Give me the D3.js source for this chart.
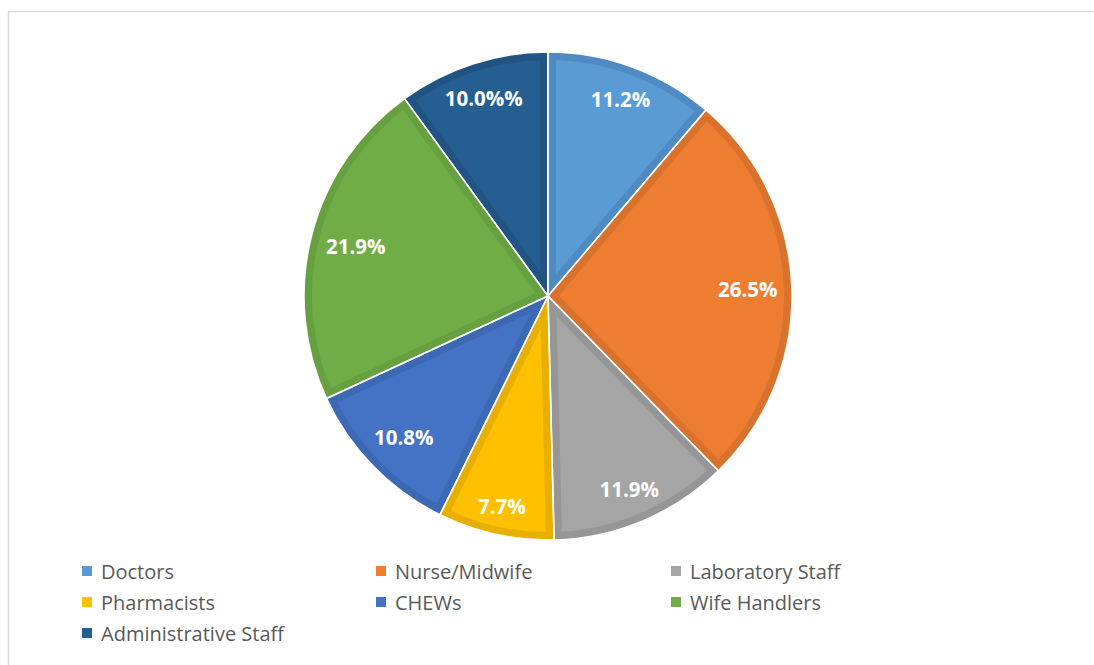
<!DOCTYPE html>
<html>
<head>
<meta charset="utf-8">
<script src="https://cdn.jsdelivr.net/npm/d3@7"></script>
<style>
  html, body { margin: 0; padding: 0; background: #fff; }
  svg { display: block; }
</style>
</head>
<body>
<svg id="chart" width="1094" height="665"></svg>
<script>
// Staff categories and their share of the workforce (%)
const categories = ["Doctors", "Nurse/Midwife", "Laboratory Staff", "Pharmacists", "CHEWs", "Wife Handlers", "Administrative Staff"];
const shares = [11.2, 26.5, 11.9, 7.7, 10.8, 21.9, 10.0];
const labels = ["11.2%", "26.5%", "11.9%", "7.7%", "10.8%", "21.9%", "10.0%%"];
const fills = ["#5B9BD5", "#ED7D31", "#A5A5A5", "#FFC000", "#4472C4", "#70AD47", "#255E91"];
const edges = ["#4F8AC2", "#D8722C", "#969696", "#E8AF00", "#3D68B3", "#66A040", "#215483"];

const svg = d3.select("#chart");
const W = 1094, H = 665;

// outer frame
svg.append("rect")
  .attr("x", 8.5).attr("y", 11.5)
  .attr("width", W).attr("height", H)
  .attr("fill", "none").attr("stroke", "#d9d9d9").attr("stroke-width", 1.5);

const cx = 548, cy = 296, R = 244;
const data = categories.map((c, i) => ({ name: c, value: shares[i], label: labels[i], fill: fills[i], edge: edges[i] }));

const pie = d3.pie().value(d => d.value).sort(null);
const arc = d3.arc().innerRadius(0).outerRadius(R);
const arcs = pie(data);

const g = svg.append("g").attr("transform", `translate(${cx},${cy})`);
const defs = svg.append("defs");

arcs.forEach((a, i) => {
  defs.append("clipPath").attr("id", "clip" + i)
    .append("path").attr("d", arc(a));
});

// slices with an inner darker rim
g.selectAll("path.slice")
  .data(arcs)
  .join("path")
  .attr("class", "slice")
  .attr("d", arc)
  .attr("fill", d => d.data.fill)
  .attr("stroke", d => d.data.edge)
  .attr("stroke-width", 16)
  .attr("stroke-linejoin", "miter")
  .attr("clip-path", (d, i) => `url(#clip${i})`);

// thin white separators between slices
g.selectAll("path.sep")
  .data(arcs)
  .join("path")
  .attr("class", "sep")
  .attr("d", arc)
  .attr("fill", "none")
  .attr("stroke", "#ffffff")
  .attr("stroke-width", 1.5)
  .attr("stroke-linejoin", "round");

// value labels placed inside the outer edge
const fontSize = 20.5;
const lab = g.selectAll("text.val")
  .data(arcs)
  .join("text")
  .attr("class", "val")
  .attr("font-family", "'Open Sans', sans-serif")
  .attr("font-weight", "bold")
  .attr("font-size", fontSize)
  .attr("fill", "#ffffff")
  .attr("text-anchor", "middle")
  .attr("dominant-baseline", "central")
  .text(d => d.data.label);

lab.each(function(d) {
  const bb = this.getBBox();
  const hw = bb.width / 2, hh = fontSize * 0.5;
  const a = (d.startAngle + d.endAngle) / 2;
  const s = Math.sin(a), c = -Math.cos(a);
  const dist = R - 14 - (Math.abs(s) * hw + Math.abs(c) * hh);
  d3.select(this).attr("x", s * dist).attr("y", c * dist);
});

// legend
const legendCols = [82, 376, 671];
const legendRows = [571, 602, 633];
const leg = svg.append("g");
data.forEach((d, i) => {
  const x = legendCols[i % 3], y = legendRows[Math.floor(i / 3)];
  leg.append("rect")
    .attr("x", x).attr("y", y - 5)
    .attr("width", 10).attr("height", 10)
    .attr("fill", d.fill);
  leg.append("text")
    .attr("x", x + 19).attr("y", y)
    .attr("dominant-baseline", "central")
    .attr("font-family", "'Open Sans', sans-serif")
    .attr("font-size", 20)
    .attr("fill", "#595959")
    .text(d.name);
});
</script>
</body>
</html>
